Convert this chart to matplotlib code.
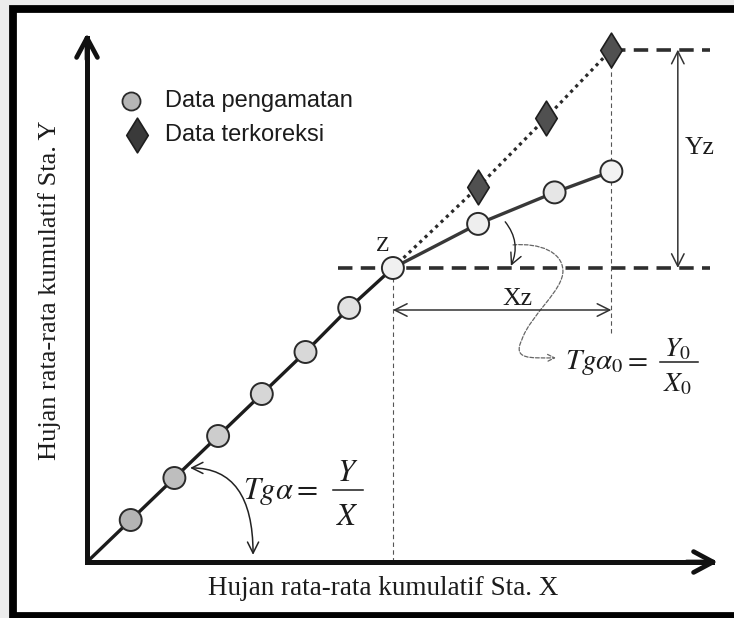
import numpy as np
import matplotlib
matplotlib.use("Agg")
import matplotlib.pyplot as plt
from matplotlib.path import Path
from matplotlib.patches import Rectangle, FancyArrowPatch

plt.rcParams['mathtext.fontset'] = 'stix'

# cumulative average rainfall, station X (horizontal) vs station Y (vertical)
x_obs = [1.0, 2.0, 3.0, 4.0, 5.0, 6.0, 7.0, 8.95, 10.7, 12.0]
y_obs = [1.0, 2.0, 3.0, 4.0, 5.0, 6.05, 7.0, 8.05, 8.8, 9.3]
# corrected values after the break point Z
x_kor = [8.95, 10.5, 12.0]
y_kor = [8.93, 10.57, 12.2]
iz = 6  # index of break point Z

legend_labels = ['Data pengamatan', 'Data terkoreksi']
x_label = 'Hujan rata-rata kumulatif Sta. X'
y_label = 'Hujan rata-rata kumulatif Sta. Y'

serif = 'Liberation Serif'
sans = 'Liberation Sans'
ink = '#1c1c1c'

fig = plt.figure(figsize=(7.34, 6.18), dpi=100)
fig.patch.set_facecolor('#ececec')
fig.add_artist(Rectangle((13 / 734, 2 / 618), 1.0, 0.9814, transform=fig.transFigure,
                         facecolor='white', edgecolor='black', lw=5.6, zorder=-1))

ax = fig.add_axes([87 / 734, 56 / 618, 631 / 734, 529 / 618])
xmax, ymax = 631 / 43.7, 529 / 42
ax.set_xlim(0, xmax)
ax.set_ylim(0, ymax)
ax.axis('off')

# axes with arrow heads
ax.plot([0, 0, xmax * 0.99], [ymax * 0.99, 0, 0], color='#111', lw=3.6,
        solid_joinstyle='miter', clip_on=False, zorder=3)
head = dict(arrowstyle='->,head_length=1.4,head_width=0.75', lw=3.4, color='#111',
            shrinkA=0, shrinkB=0)
ax.annotate('', xy=(1, 0), xytext=(0.95, 0), xycoords='axes fraction',
            arrowprops=head, annotation_clip=False)
ax.annotate('', xy=(0, 1), xytext=(0, 0.95), xycoords='axes fraction',
            arrowprops=head, annotation_clip=False)

# observed mass curve and corrected extension
ax.plot(np.r_[0, x_obs[:iz + 1]], np.r_[0, y_obs[:iz + 1]], color=ink, lw=2.4, zorder=2)
ax.plot(x_obs[iz:], y_obs[iz:], color='#383838', lw=2.4, zorder=2)
ax.plot(np.r_[x_obs[iz], x_kor], np.r_[y_obs[iz], y_kor], color='#2a2a2a', lw=2.3,
        linestyle=(0, (1, 1.3)), zorder=2)

# guide lines
dash = (0, (4, 2.3))
ax.hlines(y_obs[iz], 5.74, 14.25, color='#2e2e2e', lw=2.6, linestyles=[dash], zorder=1)
ax.hlines(y_kor[-1], x_kor[-1], 14.25, color='#2e2e2e', lw=2.6, linestyles=[dash], zorder=1)
ax.vlines(x_obs[iz], 0, y_obs[iz], color='#555', lw=0.8, linestyles=[(0, (4, 3))], zorder=1)
ax.vlines(x_obs[-1], 5.45, y_kor[-1], color='#555', lw=0.8, linestyles=[(0, (4, 3))], zorder=1)

dim = dict(arrowstyle='<->,head_length=0.9,head_width=0.45', lw=1.1, color='#333',
           shrinkA=0, shrinkB=0)
ax.annotate('', xy=(x_obs[-1], 6.0), xytext=(x_obs[iz], 6.0), arrowprops=dim)
ax.annotate('', xy=(13.52, y_kor[-1]), xytext=(13.52, y_obs[iz]), arrowprops=dim)

# angle arcs
ax.annotate('', xy=(3.80, 0.17), xytext=(2.36, 2.24),
            arrowprops=dict(arrowstyle='<->,head_length=0.8,head_width=0.4', lw=1.1,
                            color='#222', shrinkA=0, shrinkB=0,
                            connectionstyle='angle3,angleA=0,angleB=90'))
ax.annotate('', xy=(9.70, 7.05), xytext=(9.57, 8.10),
            arrowprops=dict(arrowstyle='->,head_length=0.8,head_width=0.4', lw=1.0,
                            color='#222', shrinkA=0, shrinkB=0,
                            connectionstyle='arc3,rad=-0.3'))

# wavy pointer to the slope formula
verts = [(9.75, 7.55), (10.37, 7.60), (10.87, 7.38), (10.89, 6.95),
         (10.92, 6.48), (10.14, 5.88), (9.95, 5.29),
         (9.73, 4.81), (10.14, 4.86), (10.73, 4.86)]
codes = [Path.MOVETO] + [Path.CURVE4] * 9
ax.add_patch(FancyArrowPatch(path=Path(verts, codes),
                             arrowstyle='->,head_length=5,head_width=2.5',
                             color='#666', lw=0.9, linestyle=(0, (3, 1.5)), zorder=1))

# markers
fills = ['#b4b4b4', '#bebebe', '#cdcdcd', '#d6d6d6', '#d8d8d8', '#e2e2e2',
         '#f0f0f0', '#eeeeee', '#e6e6e6', '#f2f2f2']
diamond = Path([(0, 1), (0.62, 0), (0, -1), (-0.62, 0), (0, 1)],
               [Path.MOVETO, Path.LINETO, Path.LINETO, Path.LINETO, Path.CLOSEPOLY])
ax.scatter(x_obs, y_obs, s=250, c=fills, edgecolors='#2a2a2a', linewidths=1.4,
           zorder=4, clip_on=False)
ax.scatter(x_kor, y_kor, s=25 ** 2, marker=diamond, c='#505050', edgecolors='#1e1e1e',
           linewidths=1.2, zorder=4, clip_on=False)

# legend
ax.scatter([1.01], [10.98], s=13 ** 2, c='#b5b5b5', edgecolors='#2a2a2a', linewidths=1.3,
           zorder=4)
ax.scatter([1.14], [10.17], s=25 ** 2, marker=diamond, c='#3a3a3a', edgecolors='#1e1e1e',
           linewidths=1.2, zorder=4)
ax.text(1.78, 10.98, legend_labels[0], family=sans, fontsize=17, color=ink, va='center')
ax.text(1.78, 10.17, legend_labels[1], family=sans, fontsize=17, color=ink, va='center')

# labels
ax.text(6.77, 7.52, 'Z', family=serif, fontsize=16, color=ink, ha='center', va='center')
ax.text(9.86, 6.27, 'Xz', family=serif, fontsize=18.5, color=ink, ha='center', va='center')
ax.text(14.03, 9.86, 'Yz', family=serif, fontsize=18.5, color=ink, ha='center', va='center')

# slope formulas, fractions set by hand
ax.text(3.57, 1.67, r'$Tg\alpha =$', fontsize=22, color=ink, va='center')
ax.text(5.97, 2.12, r'$Y$', fontsize=22, color=ink, ha='center', va='center')
ax.text(5.97, 1.08, r'$X$', fontsize=22, color=ink, ha='center', va='center')
ax.plot([5.63, 6.31], [1.71, 1.71], color=ink, lw=1.1)

ax.text(10.94, 4.76, r'$Tg\alpha_0 =$', fontsize=21, color=ink, va='center')
ax.text(13.52, 5.08, r'$Y_0$', fontsize=20, color=ink, ha='center', va='center')
ax.text(13.52, 4.26, r'$X_0$', fontsize=20, color=ink, ha='center', va='center')
ax.plot([13.11, 13.98], [4.76, 4.76], color=ink, lw=1.1)

ax.text(0.469, -0.027, x_label, transform=ax.transAxes, family=serif, fontsize=19.5,
        color=ink, ha='center', va='top')
ax.text(-0.041, 0.514, y_label, transform=ax.transAxes, family=serif, fontsize=19,
        color=ink, ha='right', va='center', rotation=90)

fig.savefig('out.png', dpi=100)
